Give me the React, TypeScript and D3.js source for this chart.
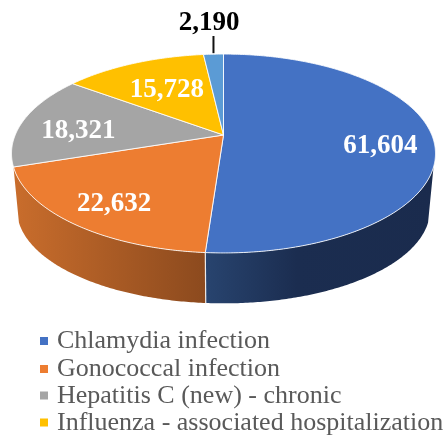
import * as d3 from "d3";

const categories = ["Chlamydia infection", "Gonococcal infection", "Hepatitis C (new) - chronic", "Influenza - associated hospitalization", "Other"];
const values = [61604, 22632, 18321, 15728, 2190];
const colors = ["#4472C4", "#ED7D31", "#A5A5A5", "#FFC000", "#5B9BD5"];
const labelRadius = [0.75, 0.76, 0.72, 0.595];
const labelShift = [6, 2, 5, -2];
const legendBaselines = [348, 376, 402.5, 429.5];

const CX = 223.5, APEX_Y = 135, R = 208.3, BX = 96, K = 0.186;
const DEPTH_Y = 57.5, BOTTOM_SCALE = 0.974;

function project(angle: number, r: number, bottom = false) {
  const u = Math.sin(angle) * r, v = Math.cos(angle) * r;
  const w = 1 / (1 + K * v);
  const s = bottom ? BOTTOM_SCALE : 1;
  const sy = bottom ? 0.94 : 1;
  return [CX + R * s * u * w, APEX_Y + (bottom ? DEPTH_Y : 0) - BX * sy * v * w] as [number, number];
}

function arcPoints(a0: number, a1: number, bottom = false) {
  const n = Math.max(2, Math.ceil(Math.abs(a1 - a0) / 0.01));
  return d3.range(n + 1).map((i) => project(a0 + ((a1 - a0) * i) / n, 1, bottom));
}

const line = d3.line();

export default function App() {
  const slices = d3.pie<number>().sort(null).startAngle(0).endAngle(2 * Math.PI)(values);
  const blue = slices[0], orange = slices[1];
  const sideSpecs = [
    { id: "sideBlue", a0: 2 * Math.PI - orange.endAngle, a1: blue.endAngle },
    { id: "sideOrange", a0: orange.startAngle, a1: orange.endAngle },
  ];
  const seamTop = project(blue.endAngle, 1);
  const seamBottom = project(blue.endAngle, 1, true);
  const small = slices[4];
  const smallMid = project((small.startAngle + small.endAngle) / 2, 1);
  return (
    <svg width={447} height={435} style={{ position: "absolute", left: 0, top: 0, background: "#fff", filter: "blur(0.4px)" }}>
      <defs>
        <linearGradient id="sideBlue" gradientUnits="userSpaceOnUse" x1={205} x2={435} y1={0} y2={0}>
          <stop offset="0" stopColor="#28446F" />
          <stop offset="0.4" stopColor="#1B2D50" />
          <stop offset="1" stopColor="#1A2B4D" />
        </linearGradient>
        <linearGradient id="sideOrange" gradientUnits="userSpaceOnUse" x1={14} x2={205} y1={0} y2={0}>
          <stop offset="0" stopColor="#C96D2C" />
          <stop offset="1" stopColor="#8C4A1E" />
        </linearGradient>
      </defs>
      {sideSpecs.map((s) => (
        <path
          key={s.id}
          d={(line([...arcPoints(s.a0, s.a1), ...arcPoints(s.a1, s.a0, true)]) ?? "") + "Z"}
          fill={`url(#${s.id})`}
        />
      ))}
      <path d={line([seamTop, seamBottom]) ?? ""} stroke="#fff" strokeOpacity={0.85} strokeWidth={1.2} />
      {slices.map((s, i) => (
        <path
          key={i}
          d={(line([[CX, APEX_Y], ...arcPoints(s.startAngle, s.endAngle)]) ?? "") + "Z"}
          fill={colors[i]}
          stroke="#fff"
          strokeOpacity={0.85}
          strokeWidth={1}
          strokeLinejoin="round"
        />
      ))}
      <g fontFamily="'Liberation Serif'" fontWeight={700} fontSize={27} textAnchor="middle">
        {slices.slice(0, 4).map((s, i) => {
          const [x, y] = project((s.startAngle + s.endAngle) / 2, labelRadius[i]);
          return (
            <text key={i} x={x} y={y + labelShift[i] + 9} fill="#fff">
              {d3.format(",")(values[i])}
            </text>
          );
        })}
        <text x={209} y={30} fill="#000">{d3.format(",")(values[4])}</text>
      </g>
      <path d={line([[smallMid[0], smallMid[1] - 1], [smallMid[0], 36]]) ?? ""} stroke="#111" strokeWidth={2} />
      <g fontFamily="'Liberation Serif'" fontSize={26} fill="#595959">
        {categories.slice(0, 4).map((c, i) => (
          <g key={c}>
            <rect x={40} y={legendBaselines[i] - 11} width={8} height={8} fill={colors[i]} />
            <text x={57} y={legendBaselines[i]}>{c}</text>
          </g>
        ))}
      </g>
    </svg>
  );
}
